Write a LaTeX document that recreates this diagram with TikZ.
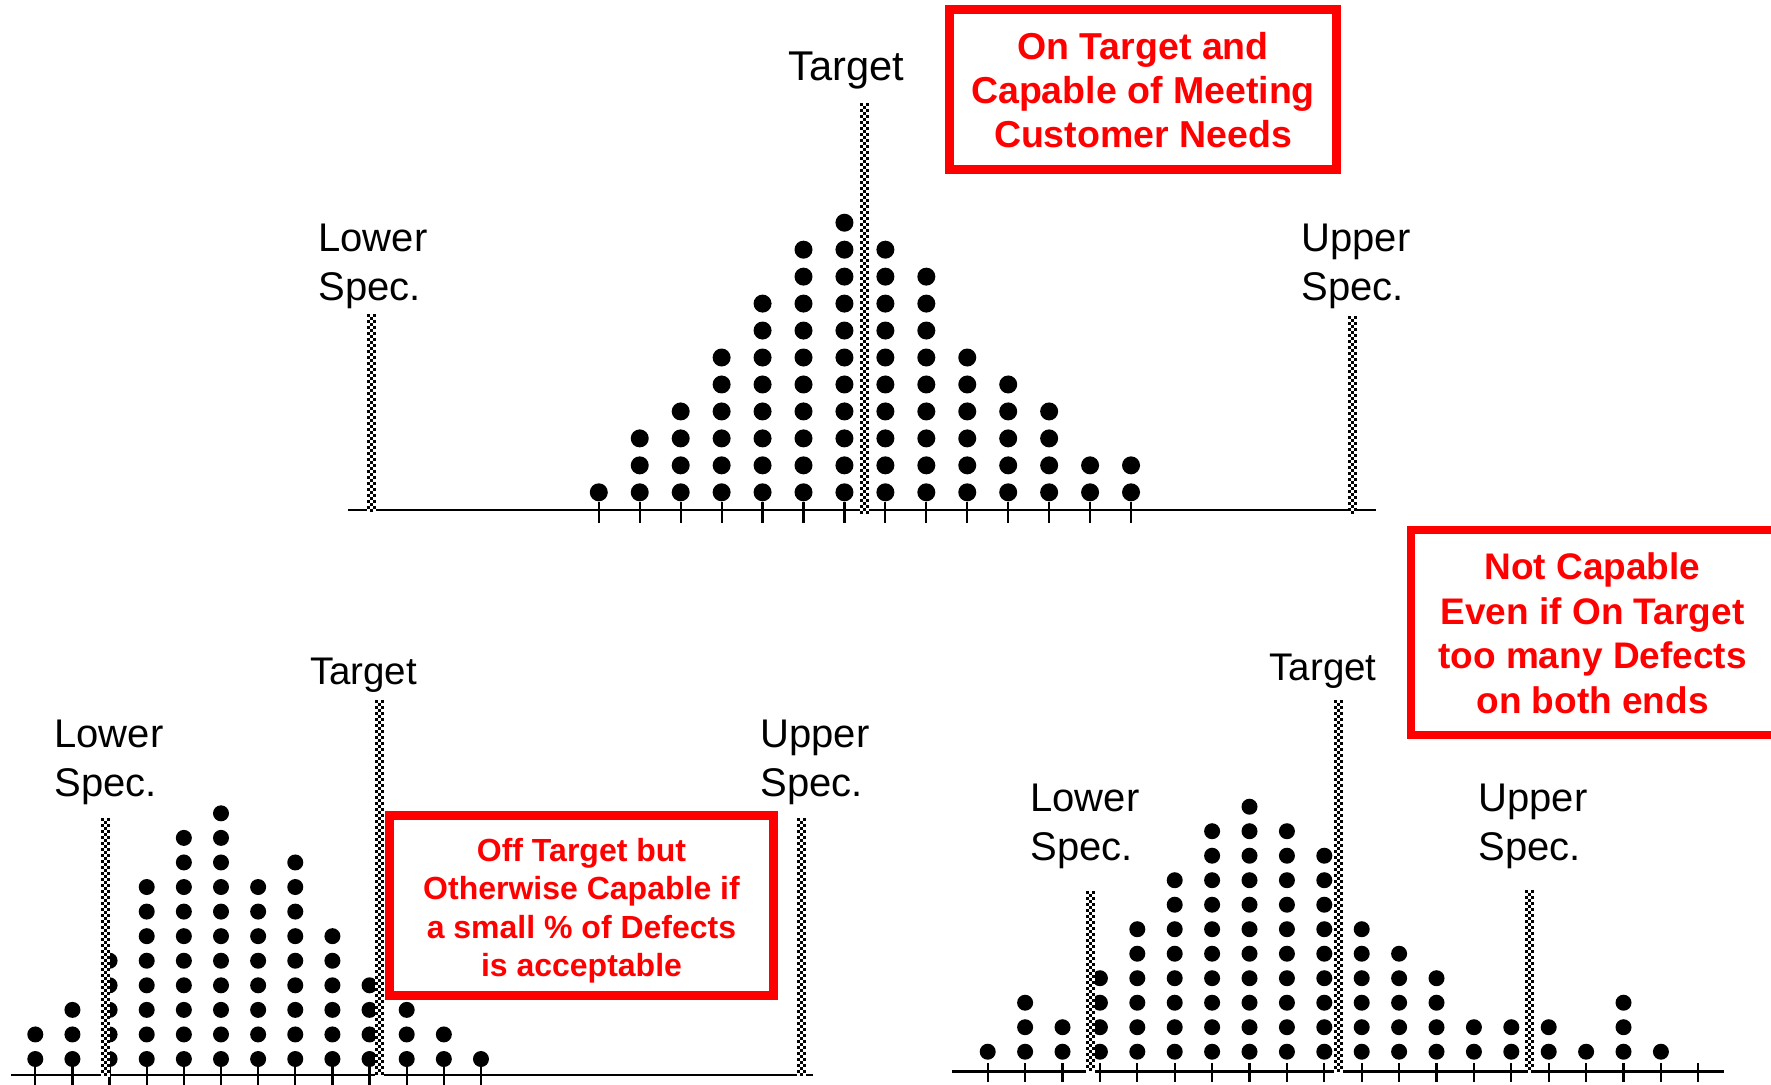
\documentclass[tikz,border=0pt]{standalone}
\usepackage{fontspec}
\setmainfont{Liberation Sans}

% checkered vertical line, three cells wide, cells of 3 units: x, top, bottom
\newcommand\speccheck[3]{%
  \fill[white] ({#1-4.5},#2) rectangle ({#1+4.5},#3);
  \pgfmathtruncatemacro\checkrows{(#3-#2)/3-1}%
  \foreach \r in {0,...,\checkrows}{%
    \ifodd\r\relax
      \fill ({#1-1.5},{#2+3*\r}) rectangle ++(3,3);
    \else
      \fill ({#1-4.5},{#2+3*\r}) rectangle ++(3,3);
      \fill ({#1+1.5},{#2+3*\r}) rectangle ++(3,3);
    \fi}}

\tikzset{
  axisline/.style={line width=1.3pt, black},
  tickline/.style={line width=1.1pt, black},
  labelfont/.style={font=\fontsize{20}{24.5}\selectfont},
  speclabel/.style={labelfont, inner sep=0pt, align=left, anchor=north west},
  targetlabel/.style={font=\fontsize{19.25}{24}\selectfont, inner sep=0pt, anchor=base},
  redframe/.style={draw=red, line width=4.5pt},
  rednote/.style={text=red, inner sep=0pt, align=center, anchor=north},
}

\begin{document}
\begin{tikzpicture}[x=0.5pt, y=-0.5pt]
\clip (0,0) rectangle (1771,1084);
\fill[white] (0,0) rectangle (1771,1084);

% ---------------- upper distribution ----------------
\draw[axisline] (348,510) -- (1376,510);
\foreach \i in {0,...,13}
  \draw[tickline] ({598.8+40.94*\i},502) -- ++(0,21);
\foreach \h [count=\i from 0] in {1,3,4,6,8,10,11,10,9,6,5,4,2,2}
  \foreach \j in {1,...,\h}
    \fill ({598.8+40.94*\i},{492.3-26.96*(\j-1)}) circle[radius=9];
\speccheck{371}{314}{514}
\speccheck{864.5}{103}{514}
\speccheck{1352}{316}{514}
\node[targetlabel, font=\fontsize{20.8}{25}\selectfont] (topTarget) at (846.5,80) {Target};
\node[speclabel] (topLower) at (318,224) {Lower\\Spec.};
\node[speclabel] (topUpper) at (1301,224) {Upper\\Spec.};
\draw[redframe] (949.5,9.5) rectangle (1336.5,169.8);
\node[rednote, font=\bfseries\fontsize{18.75}{22.1}\selectfont] (onTargetNote) at (1143,31.7)
  {On Target and\\Capable of Meeting\\Customer Needs};

% ---------------- lower left distribution ----------------
\draw[axisline] (11,1075) -- (813,1075);
\foreach \i in {0,...,12}
  \draw[tickline] ({35.3+37.14*\i},1067) -- ++(0,19);
\foreach \h [count=\i from 0] in {2,3,5,8,10,11,8,9,6,4,3,2,1}
  \foreach \j in {1,...,\h}
    \fill ({35.3+37.14*\i},{1059-24.57*(\j-1)}) circle[radius=8];
\speccheck{105.3}{818}{1077}
\speccheck{379.3}{700}{1077}
\speccheck{801.5}{818}{1077}
\node[targetlabel] (leftTarget) at (363.5,684) {Target};
\node[speclabel] (leftLower) at (54,720) {Lower\\Spec.};
\node[speclabel] (leftUpper) at (760,720) {Upper\\Spec.};
\draw[redframe] (389.5,815.5) rectangle (773.2,995.5);
\node[rednote, font=\bfseries\fontsize{16}{19.15}\selectfont] (offTargetNote) at (581.5,838)
  {Off Target but\\Otherwise Capable if\\a small \% of Defects\\is acceptable};

% ---------------- lower right distribution ----------------
\draw[axisline] (952,1071.5) -- (1724,1071.5);
\foreach \i in {0,...,19}
  \draw[tickline] ({987.7+37.4*\i},1063) -- ++(0,19);
\foreach \h [count=\i from 0] in {1,3,2,4,6,8,10,11,10,9,6,5,4,2,2,2,1,3,1}
  \foreach \j in {1,...,\h}
    \fill ({987.7+37.4*\i},{1051.7-24.5*(\j-1)}) circle[radius=8];
\speccheck{1090}{891}{1073}
\speccheck{1338.5}{700}{1073}
\speccheck{1529.3}{890}{1073}
\node[targetlabel] (rightTarget) at (1323,680) {Target};
\node[speclabel] (rightLower) at (1030,784) {Lower\\Spec.};
\node[speclabel] (rightUpper) at (1478,784) {Upper\\Spec.};
\draw[redframe, line width=4.2pt] (1411,530.2) rectangle (1795,735.2);
\node[rednote, font=\bfseries\fontsize{18.5}{22.25}\selectfont] (notCapableNote) at (1592.5,552.7)
  {Not Capable\\Even if On Target\\too many Defects\\on both ends};
\end{tikzpicture}
\end{document}
